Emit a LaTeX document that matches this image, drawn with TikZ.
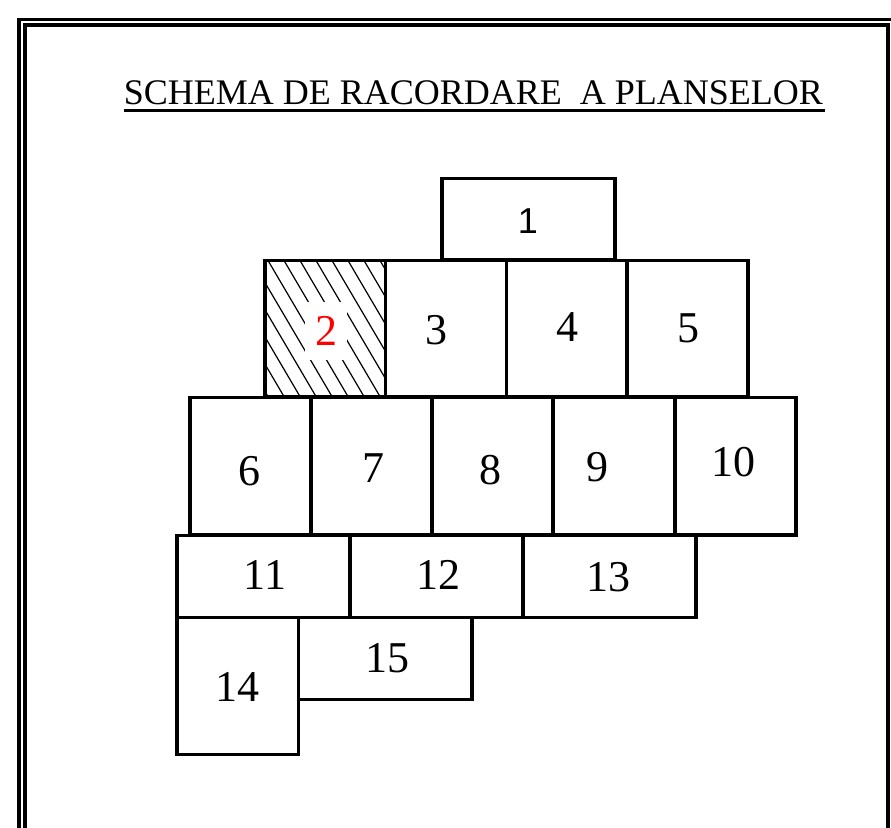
\documentclass[tikz,border=0pt]{standalone}
\usepackage{fontspec}
\setmainfont{Liberation Serif}
\newfontfamily\arialf{Liberation Sans}
\begin{document}
\begin{tikzpicture}[x=1pt,y=-1pt]
\tikzset{
  frameline/.style={line width=3.2pt},
  sheet/.style={draw, line width=3.6pt, rectangle, inner sep=0pt},
  lbl/.style={font=\fontsize{44}{50}\selectfont, inner sep=0pt},
  hatchline/.style={line width=1.2pt},
}
\useasboundingbox (0,0) rectangle (891,827);
% frame
\draw[frameline] (900,19.5) -- (19,19.5) -- (19,840);
\draw[frameline] (25,840) -- (25,25) -- (888,25) -- (888,840);
% title
\node[font=\fontsize{36}{40}\selectfont, inner sep=0pt, anchor=base] (title) at (473.5,104) {SCHEMA DE RACORDARE\ \ A PLANSELOR};
\draw[line width=3.5pt] ([yshift=-6.5pt]title.base west) -- ([yshift=-6.5pt,xshift=2pt]title.base east);
% hatching of sheet 2
\begin{scope}
  \clip (265,260.5) rectangle (385.5,396.5);
  \foreach \x in {188,204,...,400} \draw[hatchline] (\x,260.5) -- ++(80,136);
\end{scope}
% sheets
\node[sheet, minimum width=173pt, minimum height=81pt] (s1) at (528.5,219) {};
\node[sheet, minimum width=120.5pt, minimum height=136pt] (s2) at (325.25,328.5) {};
\node[sheet, minimum width=121pt, minimum height=136pt] (s3) at (446,328.5) {};
\node[sheet, minimum width=120.5pt, minimum height=136pt] (s4) at (566.75,328.5) {};
\node[sheet, minimum width=121pt, minimum height=136pt] (s5) at (687.5,328.5) {};
\node[sheet, minimum width=121pt, minimum height=137.5pt] (s6) at (250.5,466.25) {};
\node[sheet, minimum width=121pt, minimum height=137.5pt] (s7) at (371.5,466.25) {};
\node[sheet, minimum width=121pt, minimum height=137.5pt] (s8) at (492.5,466.25) {};
\node[sheet, minimum width=122pt, minimum height=137.5pt] (s9) at (614,466.25) {};
\node[sheet, minimum width=121pt, minimum height=137.5pt] (s10) at (735.5,466.25) {};
\node[sheet, minimum width=173pt, minimum height=82pt] (s11) at (263.5,576.5) {};
\node[sheet, minimum width=173pt, minimum height=82pt] (s12) at (436.5,576.5) {};
\node[sheet, minimum width=173pt, minimum height=82pt] (s13) at (609.5,576.5) {};
\node[sheet, minimum width=121.5pt, minimum height=137pt] (s14) at (237.75,686) {};
\node[sheet, minimum width=173.5pt, minimum height=82pt] (s15) at (385.25,658.5) {};
% labels
\node[font=\arialf\fontsize{36}{40}\selectfont, inner sep=0pt] (l1) at (528,221) {1};
\node[lbl, text=red, fill=white, inner xsep=10pt, inner ysep=14pt] (l2) at (326,331) {2};
\node[lbl] (l3) at (436,330) {3};
\node[lbl] (l4) at (567,327) {4};
\node[lbl] (l5) at (688,328) {5};
\node[lbl] (l6) at (249,471) {6};
\node[lbl] (l7) at (373,468) {7};
\node[lbl] (l8) at (490,470) {8};
\node[lbl] (l9) at (597,467) {9};
\node[lbl] (l10) at (733,462) {10};
\node[lbl] (l11) at (265,575) {11};
\node[lbl] (l12) at (438,575) {12};
\node[lbl] (l13) at (608,577) {13};
\node[lbl] (l14) at (237,687) {14};
\node[lbl] (l15) at (387,658) {15};
\end{tikzpicture}
\end{document}
